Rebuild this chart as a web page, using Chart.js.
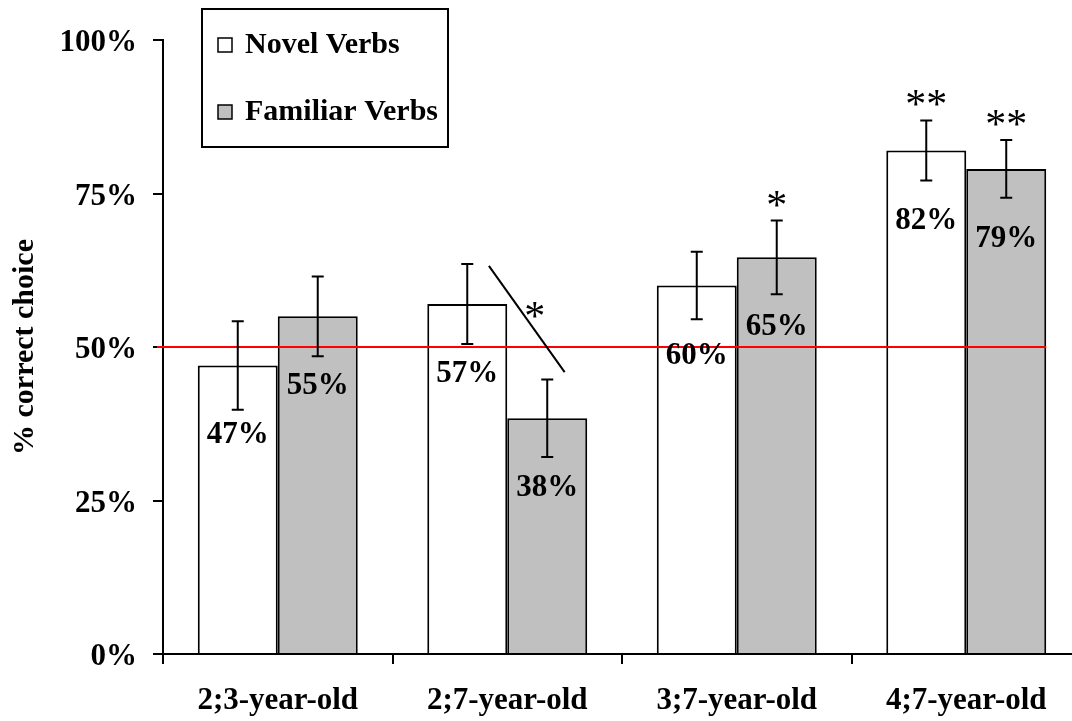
<!DOCTYPE html>
<html>
<head>
<meta charset="utf-8">
<title>% correct choice by age</title>
<script src="https://cdn.jsdelivr.net/npm/chart.js@4.4.1/dist/chart.umd.min.js"></script>
<style>
  html, body { margin: 0; padding: 0; background: #fff; overflow: hidden; }
  #wrap { width: 1082px; height: 721px; }
</style>
</head>
<body>
<div id="wrap"><canvas id="chart"></canvas></div>
<script>
// ===== DATA =====
const ageGroups = ["2;3-year-old", "2;7-year-old", "3;7-year-old", "4;7-year-old"];
const seriesNames = ["Novel Verbs", "Familiar Verbs"];
const novelVerbs = [47, 57, 60, 82];
const familiarVerbs = [55, 38.4, 64.6, 79];
const novelErr = [7.2, 6.5, 5.5, 4.9];
const familiarErr = [6.5, 6.3, 6.0, 4.7];
const novelStars = ["", "", "", "**"];
const familiarStars = ["", "", "*", "**"];
const yTicks = [0, 25, 50, 75, 100];
const chanceLevel = 50;
// novel vs familiar difference at 2;7 (category offset, value)
const pairLine = [[-0.08, 63.2], [0.25, 45.9]];
const pairStar = [0.12, 56];

const FONT = '"Liberation Serif", "Times New Roman", serif';
const BOLD = { family: FONT, size: 31, weight: 'bold' };

// ===== ANNOTATIONS: chance line, error bars, labels, stars, legend =====
const annotations = {
  id: 'annotations',
  afterDatasetsDraw(chart) {
    const { ctx, chartArea, scales: { x, y } } = chart;
    ctx.save();

    // chance line at 50%
    const last = chart.getDatasetMeta(1).data[ageGroups.length - 1];
    const yc = y.getPixelForValue(chanceLevel);
    ctx.strokeStyle = '#ff0000';
    ctx.lineWidth = 2;
    ctx.beginPath();
    ctx.moveTo(chartArea.left - 6, yc);
    ctx.lineTo(last.x + last.width / 2, yc);
    ctx.stroke();

    const series = [
      [novelVerbs, novelErr, novelStars],
      [familiarVerbs, familiarErr, familiarStars]
    ];
    series.forEach(([vals, errs, stars], di) => {
      chart.getDatasetMeta(di).data.forEach((bar, i) => {
        const top = y.getPixelForValue(vals[i] + errs[i]);
        const bot = y.getPixelForValue(vals[i] - errs[i]);
        ctx.strokeStyle = '#000';
        ctx.lineWidth = 2;
        ctx.beginPath();
        ctx.moveTo(bar.x, top); ctx.lineTo(bar.x, bot);
        ctx.moveTo(bar.x - 6, top); ctx.lineTo(bar.x + 6, top);
        ctx.moveTo(bar.x - 6, bot); ctx.lineTo(bar.x + 6, bot);
        ctx.stroke();

        ctx.fillStyle = '#000';
        ctx.textAlign = 'center';
        ctx.textBaseline = 'middle';
        ctx.font = `bold 31px ${FONT}`;
        ctx.fillText(Math.round(vals[i]) + '%', bar.x, bar.y + 70);

        if (stars[i]) {
          ctx.font = `42px ${FONT}`;
          ctx.textBaseline = 'alphabetic';
          ctx.fillText(stars[i], bar.x, top - 2);
        }
      });
    });

    // diagonal comparison mark at 2;7
    const catW = x.width / ageGroups.length;
    const cx = x.getPixelForValue(1);
    ctx.strokeStyle = '#000';
    ctx.lineWidth = 2;
    ctx.beginPath();
    ctx.moveTo(cx + pairLine[0][0] * catW, y.getPixelForValue(pairLine[0][1]));
    ctx.lineTo(cx + pairLine[1][0] * catW, y.getPixelForValue(pairLine[1][1]));
    ctx.stroke();
    ctx.font = `42px ${FONT}`;
    ctx.textAlign = 'center';
    ctx.textBaseline = 'alphabetic';
    ctx.fillText('*', cx + pairStar[0] * catW, y.getPixelForValue(pairStar[1]) + 20);

    ctx.restore();
  },
  afterDraw(chart) {
    // boxed legend, top left
    const { ctx } = chart;
    const ds = chart.data.datasets;
    ctx.save();
    ctx.fillStyle = '#fff';
    ctx.fillRect(202, 9, 246, 138);
    ctx.strokeStyle = '#000';
    ctx.lineWidth = 2;
    ctx.strokeRect(202, 9, 246, 138);
    ds.forEach((d, i) => {
      const cy = 45 + i * 67;
      ctx.fillStyle = d.backgroundColor;
      ctx.fillRect(218, cy - 7, 14, 14);
      ctx.lineWidth = 1.5;
      ctx.strokeRect(218, cy - 7, 14, 14);
      ctx.fillStyle = '#000';
      ctx.font = `bold 30px ${FONT}`;
      ctx.textAlign = 'left';
      ctx.textBaseline = 'middle';
      ctx.fillText(d.label, 245, cy);
    });
    ctx.restore();
  }
};

// ===== CHART =====
new Chart(document.getElementById('chart'), {
  type: 'bar',
  data: {
    labels: ageGroups,
    datasets: [
      {
        label: seriesNames[0],
        data: novelVerbs,
        backgroundColor: '#ffffff',
        borderColor: '#000000',
        borderWidth: 2
      },
      {
        label: seriesNames[1],
        data: familiarVerbs,
        backgroundColor: '#c0c0c0',
        borderColor: '#000000',
        borderWidth: 2
      }
    ]
  },
  options: {
    responsive: true,
    maintainAspectRatio: false,
    animation: false,
    categoryPercentage: 0.697,
    barPercentage: 1.0,
    layout: { padding: { top: 40, right: 1, left: 0, bottom: 0 } },
    plugins: {
      legend: { display: false },
      tooltip: { enabled: false }
    },
    scales: {
      x: {
        afterFit: s => { s.height = 67; },
        grid: { drawOnChartArea: false, offset: true, tickLength: 10, color: '#000', lineWidth: 2 },
        border: { display: true, color: '#000', width: 2 },
        ticks: { color: '#000', font: BOLD, padding: 18, maxRotation: 0 }
      },
      y: {
        min: 0,
        max: 100,
        afterFit: s => { s.width = 163; },
        afterBuildTicks: s => { s.ticks = yTicks.map(v => ({ value: v })); },
        grid: { drawOnChartArea: false, tickLength: 10, color: '#000', lineWidth: 2 },
        border: { display: true, color: '#000', width: 2 },
        ticks: { color: '#000', font: BOLD, padding: 16, labelOffset: 3, callback: v => v + '%' },
        title: { display: true, text: '% correct choice', color: '#000', font: { family: FONT, size: 30, weight: 'bold' }, padding: { top: 7, bottom: 0 } }
      }
    }
  },
  plugins: [annotations]
});
</script>
</body>
</html>
